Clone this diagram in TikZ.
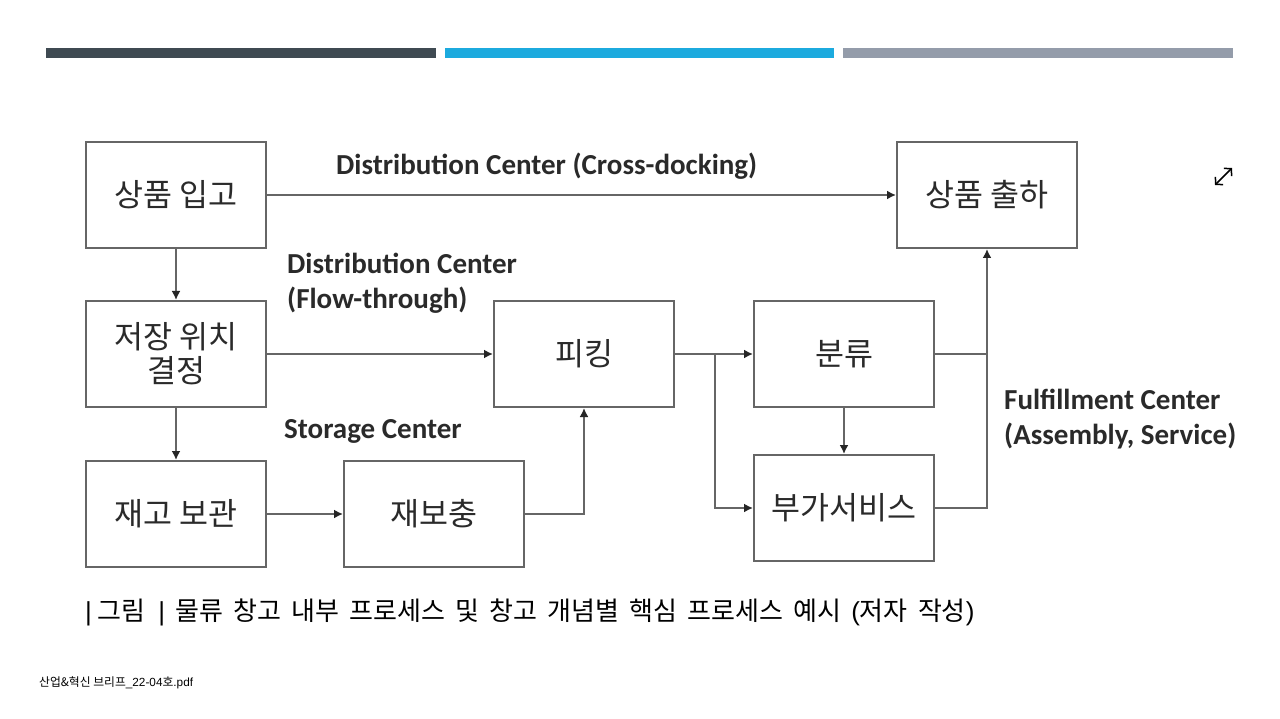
\documentclass[tikz,border=0pt]{standalone}
\usepackage{fontspec}
\usetikzlibrary{arrows.meta,calc}
\newfontfamily\krfont{Noto Sans CJK KR}
\newfontfamily\labelfont[BoldFont=Carlito Bold]{Carlito}
\newfontfamily\capfont{Liberation Sans}
\definecolor{barA}{HTML}{3F4A52}
\definecolor{barB}{HTML}{1CAADE}
\definecolor{barC}{HTML}{949CAA}
\definecolor{lineC}{HTML}{666666}
\definecolor{textC}{HTML}{2A2A2A}
\tikzset{
  bar/.style={fill=#1,draw=none},
  boxn/.style={draw=lineC,line width=2pt,minimum width=180pt,minimum height=106pt,inner sep=0pt,align=center,text=textC,font=\krfont\fontsize{31.5}{34}\selectfont},
  conn/.style={draw=lineC,line width=2pt},
  arr/.style={conn,-{Latex[length=9pt,width=9pt,color=black!85]}},
  lab/.style={anchor=west,inner sep=0pt,align=left,text=textC,font=\labelfont\bfseries\fontsize{29}{35}\selectfont},
  captext/.style={anchor=west,inner sep=0pt,text=black,font=\krfont\fontsize{26}{30}\selectfont},
  foot/.style={anchor=west,inner sep=0pt,text=black,font=\krfont\fontsize{11.8}{14}\selectfont},
  icon/.style={draw=black,line width=1.5pt,{Straight Barb[length=5pt,width=11pt]}-{Straight Barb[length=5pt,width=11pt]}}
}
\begin{document}
\begin{tikzpicture}[x=1pt,y=-1pt]
\useasboundingbox (0,0) rectangle (1280,719);
\fill[white] (0,0) rectangle (1280,719);
\fill[bar=barA] (46,48) rectangle (436,58);
\fill[bar=barB] (445,48) rectangle (834,58);
\fill[bar=barC] (843,48) rectangle (1233,58);

\node[boxn] (in) at (176,195) {상품 입고};
\node[boxn] (out) at (987,195) {상품 출하};
\node[boxn] (loc) at (176,354) {저장 위치\\결정};
\node[boxn] (stock) at (176,514) {재고 보관};
\node[boxn] (refill) at (434,514) {재보충};
\node[boxn] (pick) at (584,354) {피킹};
\node[boxn] (sort) at (844,354) {분류};
\node[boxn] (svc) at (844,508) {부가서비스};

\coordinate (j1) at (715,354);
\coordinate (j2) at (987,354);

\draw[arr] (in.east) -- (out.west);
\draw[arr] (in.south) -- (loc.north);
\draw[arr] (loc.south) -- (stock.north);
\draw[arr] (loc.east) -- (pick.west);
\draw[arr] (stock.east) -- (refill.west);
\draw[arr] (refill.east) -| (pick.south);
\draw[arr] (pick.east) -- (sort.west);
\draw[arr] (j1) |- (svc.west);
\draw[arr] (sort.south) -- (svc.north);
\draw[conn] (sort.east) -- (j2);
\draw[arr] (svc.east) -| (out.south);

\node[lab] (l1) at (336,166) {Distribution Center (Cross-docking)};
\node[lab] (l2) at (287,283) {Distribution Center\\(Flow-through)};
\node[lab] (l3) at (284,431) {Storage Center};
\node[lab] (l4) at (1004,419) {Fulfillment Center\\(Assembly, Service)};

\node[captext] (c1) at (85,612) {\spaceskip=10.2pt {\capfont|}\hspace{5.2pt}그림\hspace{13.5pt}{\capfont|}\hspace{10pt}물류 창고 내부 프로세스 및 창고 개념별 핵심 프로세스 예시 {\capfont(}저자 작성{\capfont)}};
\node[foot] (f1) at (39,683) {산업\&혁신 브리프{\capfont\_22-04}호{\capfont .pdf}};

\coordinate (i1) at (1215,185);
\coordinate (i2) at (1232,168);
\draw[icon] (i1) -- (i2);
\end{tikzpicture}
\end{document}
